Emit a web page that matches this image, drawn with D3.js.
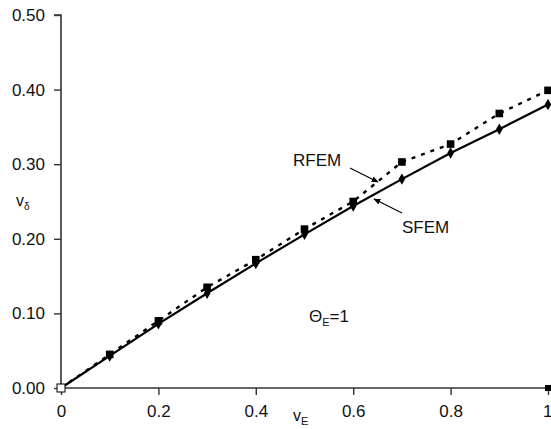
<!DOCTYPE html>
<html>
<head>
<meta charset="utf-8">
<script src="https://cdn.jsdelivr.net/npm/d3@7"></script>
<style>
  body { margin: 0; background: #fff; }
  text { font-family: "Liberation Sans", Arial, sans-serif; fill: #111; }
</style>
</head>
<body>
<div id="chart"></div>
<script>
// Data
const vE = [0, 0.1, 0.2, 0.3, 0.4, 0.5, 0.6, 0.7, 0.8, 0.9, 1.0];
const rfem = [0, 0.045, 0.090, 0.135, 0.172, 0.213, 0.250, 0.303, 0.327, 0.368, 0.399];
const sfem = [0, 0.043, 0.086, 0.127, 0.167, 0.206, 0.244, 0.280, 0.315, 0.347, 0.380];
const xTicks = [0, 0.2, 0.4, 0.6, 0.8, 1];
const yTicks = [0, 0.1, 0.2, 0.3, 0.4, 0.5];
const extraPoint = [[1, 0]];

const W = 551, H = 429;
const margin = { top: 15, right: 3, bottom: 41, left: 61 };
const width = W - margin.left - margin.right;
const height = H - margin.top - margin.bottom;

const svg = d3.select("#chart").append("svg")
  .attr("width", W)
  .attr("height", H);

const g = svg.append("g")
  .attr("transform", "translate(" + margin.left + "," + margin.top + ")");

const x = d3.scaleLinear().domain([0, 1]).range([0, width]);
const y = d3.scaleLinear().domain([0, 0.5]).range([height, 0]);

// axes
const yAxis = g.append("g")
  .call(d3.axisLeft(y).tickValues(yTicks).tickFormat(d3.format(".2f")).tickSize(7).tickPadding(9));
const xAxis = g.append("g")
  .attr("transform", "translate(0," + height + ")")
  .call(d3.axisBottom(x).tickValues(xTicks).tickFormat(function(d) { return d === 0 || d === 1 ? d : d3.format(".1f")(d); }).tickSize(7).tickPadding(10));

[xAxis, yAxis].forEach(function(a) {
  a.select(".domain").attr("stroke", "#333").attr("stroke-width", 1.6);
  a.selectAll(".tick line").attr("stroke", "#333").attr("stroke-width", 1.4);
  a.selectAll(".tick text").attr("font-size", 17).style("fill", "#111")
    .attr("font-family", "Liberation Sans, Arial, sans-serif");
});
// last x label sits at the right edge
xAxis.selectAll(".tick text").filter(function(d) { return d === 1; }).attr("text-anchor", "end").attr("dx", 4);
yAxis.select(".domain").attr("d", "M0," + height + "V0H-7");
xAxis.select(".domain").attr("d", "M0,0H" + width);

// lines
const rLine = d3.line().x(function(d, i) { return x(vE[i]); }).y(function(d) { return y(d); });

g.append("path")
  .datum(sfem)
  .attr("d", rLine)
  .attr("fill", "none")
  .attr("stroke", "#000")
  .attr("stroke-width", 2.2);

g.append("path")
  .datum(rfem)
  .attr("d", rLine)
  .attr("fill", "none")
  .attr("stroke", "#000")
  .attr("stroke-width", 2.4)
  .attr("stroke-dasharray", "4,6");

// SFEM diamonds
g.selectAll(".dia")
  .data(sfem.slice(1))
  .enter()
  .append("path")
  .attr("d", d3.symbol().type(d3.symbolDiamond).size(38))
  .attr("transform", function(d, i) { return "translate(" + x(vE[i + 1]) + "," + y(d) + ")"; })
  .attr("fill", "#000");

// RFEM squares
g.selectAll(".sq")
  .data(rfem.slice(1))
  .enter()
  .append("rect")
  .attr("x", function(d, i) { return x(vE[i + 1]) - 3.8; })
  .attr("y", function(d) { return y(d) - 3.8; })
  .attr("width", 7.6)
  .attr("height", 7.6)
  .attr("fill", "#000");

// open square at origin
g.append("rect")
  .attr("x", x(vE[0]) - 4)
  .attr("y", y(rfem[0]) - 4)
  .attr("width", 8)
  .attr("height", 8)
  .attr("fill", "#fff")
  .attr("stroke", "#000")
  .attr("stroke-width", 1);

g.selectAll(".extra")
  .data(extraPoint)
  .enter()
  .append("rect")
  .attr("x", function(d) { return x(d[0]) - 3; })
  .attr("y", function(d) { return y(d[1]) - 3; })
  .attr("width", 6)
  .attr("height", 6)
  .attr("fill", "#000");

// annotations
svg.append("defs").append("marker")
  .attr("id", "arr")
  .attr("viewBox", "0 0 10 10")
  .attr("refX", 9).attr("refY", 5)
  .attr("markerWidth", 6).attr("markerHeight", 6)
  .attr("orient", "auto")
  .append("path")
  .attr("d", "M0,1L10,5L0,9z")
  .attr("fill", "#000");

svg.append("text").attr("x", 293).attr("y", 166).attr("font-size", 17).text("RFEM");
svg.append("line")
  .attr("x1", 350).attr("y1", 168).attr("x2", 378).attr("y2", 182)
  .attr("stroke", "#000").attr("stroke-width", 1.2).attr("marker-end", "url(#arr)");

svg.append("text").attr("x", 402).attr("y", 233).attr("font-size", 17).text("SFEM");
svg.append("line")
  .attr("x1", 402).attr("y1", 213).attr("x2", 374).attr("y2", 199)
  .attr("stroke", "#000").attr("stroke-width", 1.2).attr("marker-end", "url(#arr)");

const th = svg.append("text").attr("x", 309).attr("y", 322).attr("font-size", 17);
th.append("tspan").text("\u0398");
th.append("tspan").attr("font-size", 11).attr("dy", 4).text("E");
th.append("tspan").attr("dy", -4).text("=1");

const vd = svg.append("text").attr("x", 16).attr("y", 206).attr("font-size", 16);
vd.append("tspan").text("v");
vd.append("tspan").attr("font-size", 10).attr("dy", 4).text("\u03b4");

const ve = svg.append("text").attr("x", 293).attr("y", 421).attr("font-size", 16);
ve.append("tspan").text("v");
ve.append("tspan").attr("font-size", 11).attr("dy", 4).text("E");
</script>
</body>
</html>
